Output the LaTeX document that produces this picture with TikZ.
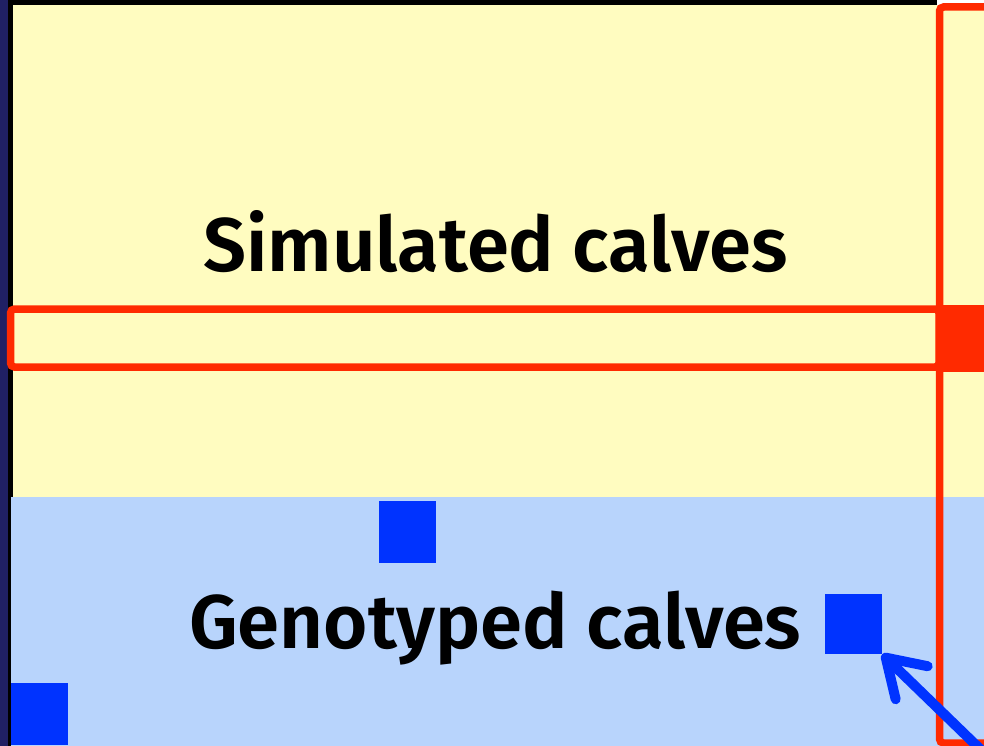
\documentclass[tikz,border=0pt]{standalone}
\usepackage{fontspec}
\setmainfont{Fira Sans}[BoldFont={Fira Sans SemiBold}]
\usetikzlibrary{arrows.meta}
\definecolor{paleyellow}{RGB}{255,252,192}
\definecolor{paleblue}{RGB}{184,212,252}
\definecolor{markblue}{RGB}{0,51,255}
\definecolor{framered}{RGB}{255,42,0}
\definecolor{navy}{RGB}{32,32,100}
\tikzset{
  frame/.style={draw=framered, line width=7.5pt, rounded corners=4pt},
  marker/.style={fill=markblue, draw=none, inner sep=0pt, minimum width=57pt},
  caption/.style={anchor=base west, inner sep=0pt, font=\fontsize{76}{91}\selectfont\bfseries},
  pointer/.style={draw=markblue, line width=10pt, line cap=round,
    -{Straight Barb[length=36pt, width=46pt, round]}}
}
\begin{document}
\begin{tikzpicture}[x=1pt, y=-1pt]
\useasboundingbox (0,0) rectangle (984,746);
\begin{scope}
\clip (0,0) rectangle (984,746);
% background bands
\fill[navy] (0,0) rectangle (8,746);
\fill[black] (8,0) rectangle (13,746);
\fill[black] (8,0) rectangle (937,5);
\fill[paleyellow] (13,5) rectangle (984,497);
\fill[paleblue] (11,497) rectangle (984,746);
% captions
\node[caption] (sim) at (203,271) {Simulated calves};
\node[caption] (gen) at (189,648) {Genotyped calves};
% highlighted row and column
\fill[framered] (936,305) rectangle (984,372);
\draw[frame] (10.5,309) rectangle (939,367);
\draw[frame] (939.5,7) rectangle (1010,743);
% markers
\node[marker, minimum height=62pt] (m1) at (407.5,532) {};
\node[marker, minimum height=60pt] (m2) at (853.5,624) {};
\node[marker, minimum height=62pt] (m3) at (39.5,714) {};
% pointer
\coordinate (tail) at (1010,778);
\draw[pointer] (tail) -- (m2.south east);
\end{scope}
\end{tikzpicture}
\end{document}
